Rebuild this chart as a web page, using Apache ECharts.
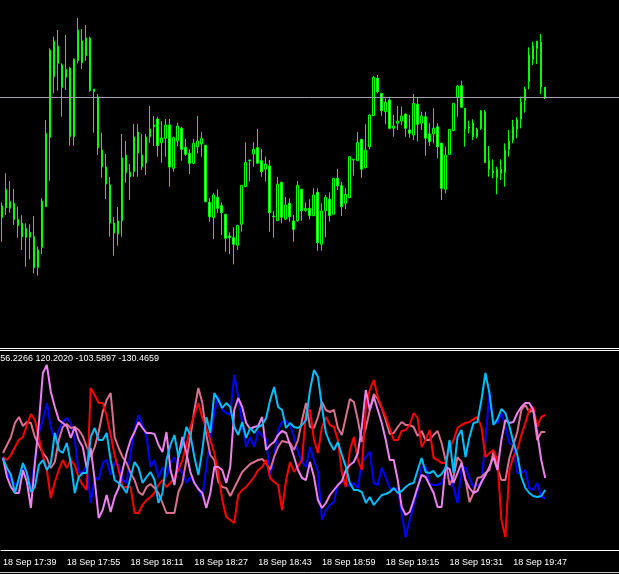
<!DOCTYPE html>
<html><head><meta charset="utf-8">
<script src="https://cdn.jsdelivr.net/npm/echarts@6/dist/echarts.min.js"></script>
<style>html,body{margin:0;padding:0;background:#000;overflow:hidden}#c{width:619px;height:574px}</style>
</head><body><div id="c"></div><script>
const tickLabels = ['18 Sep 17:39','18 Sep 17:55','18 Sep 18:11','18 Sep 18:27','18 Sep 18:43','18 Sep 18:59','18 Sep 19:15','18 Sep 19:31','18 Sep 19:47'];
const indicatorText = '56.2266 120.2020 -103.5897 -130.4659';
const bidPrice = 252.7;

const open = [132.3,160.7,141.7,146.7,130.7,126.7,112.7,117.7,113.3,82.7,
102.7,143.3,212.7,273.3,304,285,272.7,281.7,213.3,289.3,
309,294.3,312,261,253,200,183,165,127,116,
129.3,195,178,178.3,218,195,187,213.3,223.3,231,
207.3,211.7,225,181.7,209,221.7,202.7,196.7,186.7,203.3,
206,204.7,147.7,132.3,152.7,144.3,135.7,114,112.3,104.7,
125.7,163.3,189.3,196,202.3,189.3,181,184,134,129.3,
167.7,130.7,146.7,129,129.3,160.7,139.3,141.7,134.3,157.7,
105.7,139.3,150.7,135.7,171.7,164.3,146.7,152.3,190,189.3,
210.7,182.3,203.3,234.3,271.7,256.7,238.3,250,221.7,226.7,
229,236,220,215,245.7,226.7,233.3,216,216,223.3,
206.7,160.7,195.7,219.3,252.3,264.3,241.7,223,226.7,213.3,
221.3,238,189.3,179,172.3,180.7,177.3,200.7,210,221,
230.7,249.3,268.3,290.7,301.7,307.7,262.7];
const close = [144,142.3,148.7,130.7,124.3,113.3,121.7,112.7,82.3,100,
149,216.7,300,308.7,286.7,262.7,280.7,213.3,290.7,320,
287.3,312,259.3,258.3,202.3,183.3,166,127,117,129,
192,177.3,173.3,213,197,183.3,213,221,225,204.3,
212,225,183,212.3,224,200.7,195.7,186.7,206.7,209,
211.7,148.3,133.3,155,141.7,137.3,111.7,112.3,105.7,124.7,
164.7,187.7,190,200.7,186.7,178.3,186,137.3,133.3,165.7,
132.7,145,133.3,120.7,164.7,139.3,141.7,134.3,155,107.3,
139,152.7,134.3,171.7,164.3,143.3,155.7,193.3,190.7,207.7,
180.7,200,235,272.7,258.3,239.3,247.7,221.7,224,229,
234,221.7,216.7,246.7,225.7,234,211.7,208.3,221.7,203.3,
161.7,195,220.7,246.7,264,242.7,221.3,222,213.3,220.7,
239.3,187.3,180.7,177.3,180.7,176.7,200,209,223.3,230,
247.7,261,295,304,309,263.3,252.7];
const low = [108.3,135,137.3,125,112.3,100,83.3,90.7,76.7,74.3,
96,143.3,169.3,256.7,259.3,233.3,260,204.3,204.3,286.7,
281,289.3,258.3,217.3,195,172.3,151,113.3,94.3,104.3,
113.3,167.3,150,173.3,173.3,180,175,207.3,204,193.3,
187.3,193.3,163.3,178.3,204,189.3,194,176,186,196.7,
193.3,148.3,128.3,111,137.3,115,98.3,96,85.7,100,
118.3,163.3,168.3,183.3,186.7,173.3,168.3,118.3,112.3,129.3,
126.7,130.7,128.3,108.3,128.3,129.3,138.3,130.7,134.3,99.3,
99.3,112.7,128.3,135.7,160,134,141,152.3,174.3,189.3,
172.3,181.7,200.7,234.3,256.7,234.3,225.7,220.7,213.3,220,
225,213.3,212.3,210,208.3,220,194.3,204,206.7,191.7,
150,156.7,195.7,219.3,233.3,242.7,203.3,216.7,210,211.7,
220,187.3,173.3,171.7,155.7,170,163.3,193.3,206.7,211.7,
221.7,237.3,260.7,285,286,256,251];
const high = [147.3,176.7,169,161,143.3,134.7,126.7,125.7,134,103.3,
151.7,230,301.7,313.3,320,286.7,315,283.3,291.7,332,
321,325,313.3,261,256,217.3,196,173,133,143,
216,209,186,226,226,216,216,244,234,233.3,
229,231,231,213.3,227.3,223.3,211,200.7,211,234,
218,204.7,152,157,160.7,147.7,135.7,117.7,122.7,124.7,
164.7,207.7,190,207.7,221,201,193.3,190,139,173,
167.7,153,151.7,135,169,160.7,147.7,150.7,161.7,161.7,
146.7,155,157.7,171.7,181,168.3,161.7,193.3,190.7,218,
210.7,225.7,235.7,274,275,256.7,251.7,251.7,235,244,
243.3,236,235,256,252.3,238.3,238.3,226.7,241.7,226.7,
207.3,203.3,220.7,246.7,265,269.3,241.7,229.3,230.7,222.3,
240,240,204,190.7,183.3,190.7,206.7,220,230,232.7,
253.3,263.3,302.7,308.3,309,316,262.7];

const lineBlue = [-7,-23,-31,-34,-33,-14,-23,-40,-10,17,
30,47,23,10,20,28,32,27,10,-22,
-23,-15,-53,-27,-30,-13,-10,-25,-12,-15,
-30,-33,-3,20,35,25,13,-17,-10,-28,
-17,-27,-13,-7,-17,-23,-33,-27,-33,-38,
-47,-17,13,37,53,40,37,35,75,53,
27,3,13,3,19,14,11,-25,-7,20,
28,29,25,13,-2,-12,-17,3,-10,-22,
-70,-60,-55,-52,-35,-32,-33,-36,-33,-38,
-13,-7,-2,-33,-35,-18,-27,-38,-40,-38,
-63,-87,-70,-55,-40,-17,-17,-34,-35,-35,
-33,-25,-23,-37,-53,-20,-17,-28,-37,-35,
-33,10,57,27,27,37,23,7,4,-23,
-23,-20,-38,-40,-33,-47,-48];
const linePaleVioletRed = [-3,5,13,27,33,24,28,27,13,5,
-3,-8,-18,-12,10,23,26,22,23,20,
14,3,-7,3,18,38,50,57,13,2,
-7,-13,-23,-30,-42,-45,-37,-34,-38,-43,
-53,-63,-63,-63,-42,-33,-10,13,40,62,
47,15,-5,-10,-32,-37,-38,-46,-38,-30,
-22,-18,-14,-12,-10,-9,-13,-20,-7,3,
9,8,7,0,10,30,47,23,22,33,
48,40,38,40,22,15,33,51,48,30,
8,22,40,56,51,42,30,16,17,23,
28,25,25,23,14,19,10,10,15,19,
7,-10,-35,-27,-7,-12,-30,-52,-43,-28,
-27,-23,-20,-2,-18,-30,-30,-8,5,18,
40,45,38,40,10,18,18];
const lineRed = [-7,-10,-5,3,10,13,25,36,30,12,
-5,-20,-48,-32,-20,-10,-18,-10,-15,-28,
-35,-40,62,55,47,47,34,15,-5,-20,
-37,-37,-37,-63,-63,-55,-50,-47,-43,-35,
-30,-37,-33,-27,-20,-10,5,23,35,47,
32,22,10,-3,-23,-50,-67,-70,-73,-45,
-40,-37,-32,-27,-20,-17,-10,-28,-32,-35,
-60,-30,-12,-22,-16,-10,38,40,10,-3,
23,33,25,23,10,-23,-37,0,13,-10,
-20,43,60,70,53,42,33,22,10,10,
19,20,25,37,32,3,10,20,-8,-10,
-13,-13,2,10,22,25,27,28,31,33,
23,-7,-3,0,-10,-70,-87,-20,-7,0,
15,27,40,43,23,33,35];
const lineViolet = [-8,-27,-37,-43,-43,-20,-32,-58,-13,27,
77,85,58,43,30,27,24,12,23,10,
3,-18,2,-30,-68,-60,-45,-62,-47,-38,
-20,-3,10,18,28,22,17,17,16,5,
-2,18,-20,-35,-7,13,-3,-22,-33,-39,
-43,-58,-43,-17,-17,-20,-33,-17,40,52,
43,27,21,23,24,33,0,5,8,15,
19,17,5,-7,-20,-28,-30,-12,-27,-50,
-58,-53,-45,-40,-35,-31,-20,-15,-12,-3,
23,60,40,53,40,27,10,-10,-10,-30,
-57,-65,-62,-50,-37,-25,-27,-35,-43,-57,
-57,-17,-19,-33,-23,-13,-30,-38,-43,-41,
-32,-25,-17,-7,-20,10,30,27,28,37,
43,47,47,40,17,-10,-28];
const lineCyan = [-8,-18,-25,-43,-28,-13,-23,-42,-37,-15,
-10,-20,-13,17,0,-3,7,-13,-43,-27,
-23,-23,13,22,10,10,17,-10,-30,-33,
-37,-43,-27,-12,-18,-33,-27,-22,-30,-53,
-43,-10,5,15,-7,5,23,15,-7,-25,
0,33,17,57,50,42,47,43,23,15,
28,12,22,17,23,25,32,50,63,43,
40,22,27,23,22,25,30,60,80,73,
43,17,7,0,8,-5,-17,-33,-40,-40,
-42,-53,-47,-55,-50,-45,-44,-42,-38,-43,
-41,-37,-34,-33,-20,-8,-22,-23,-21,-27,
-24,-18,10,-23,13,20,-7,13,27,28,
50,77,57,25,31,41,37,24,8,-5,
-27,-38,-43,-46,-47,-46,-40];

const SLOTS = 155;
const cats = Array.from({length: SLOTS}, (_, i) => String(i));
const candles = open.map((o, i) => [o, close[i], low[i], high[i]]);
const showTick = (i) => i % 16 === 0 && i / 16 < tickLabels.length;

const chart = echarts.init(document.getElementById('c'), null, {renderer: 'canvas'});
const lineSeries = (data, color) => ({
  type: 'line', xAxisIndex: 1, yAxisIndex: 1, data: data, symbol: 'none',
  lineStyle: {color: color, width: 2}, itemStyle: {color: color}, silent: true
});
chart.setOption({
  backgroundColor: '#000',
  animation: false,
  grid: [
    {left: -0.5, top: 0, width: 620, height: 347},
    {left: -1, top: 351, width: 620, height: 199}
  ],
  xAxis: [
    {type: 'category', gridIndex: 0, data: cats, boundaryGap: true, show: false},
    {type: 'category', gridIndex: 1, data: cats, boundaryGap: true, position: 'bottom',
     axisLine: {onZero: false, lineStyle: {color: '#ffffff', width: 1}},
     axisTick: {alignWithLabel: true, length: 4, interval: showTick, lineStyle: {color: '#ffffff'}},
     axisLabel: {interval: showTick,
       formatter: (v, i) => tickLabels[i / 16] || '',
       color: '#ffffff', fontSize: 9, fontFamily: 'Liberation Sans', align: 'left', margin: 8},
     splitLine: {show: false}}
  ],
  yAxis: [
    {type: 'value', gridIndex: 0, min: 3, max: 350, show: false},
    {type: 'value', gridIndex: 1, min: -100, max: 99, show: false}
  ],
  series: [
    {type: 'candlestick', xAxisIndex: 0, yAxisIndex: 0, data: candles, barWidth: 2,
     itemStyle: {color: '#000000', color0: '#ffffff', borderColor: '#00ff00', borderColor0: '#00ff00', borderWidth: 1},
     markLine: {silent: true, symbol: ['none', 'none'], label: {show: false},
       lineStyle: {color: '#a0a0a8', width: 1, type: 'solid'}, data: [{yAxis: bidPrice}]}},
    lineSeries(lineBlue, '#0000ff'),
    lineSeries(linePaleVioletRed, '#db7093'),
    lineSeries(lineRed, '#ff0000'),
    lineSeries(lineViolet, '#ee82ee'),
    lineSeries(lineCyan, '#00bfff')
  ],
  graphic: [
    {type: 'line', shape: {x1: 0, y1: 348.5, x2: 619, y2: 348.5}, style: {stroke: '#ffffff', lineWidth: 1}, silent: true},
    {type: 'line', shape: {x1: 0, y1: 350.5, x2: 619, y2: 350.5}, style: {stroke: '#ffffff', lineWidth: 1}, silent: true},
    {type: 'line', shape: {x1: 0, y1: 572.5, x2: 619, y2: 572.5}, style: {stroke: '#c8c8c8', lineWidth: 1}, silent: true},
    {type: 'text', x: 159, y: 359, style: {text: indicatorText, fill: '#ffffff', font: '9px "Liberation Sans"', textAlign: 'right', textVerticalAlign: 'middle'}, silent: true}
  ]
});
</script></body></html>
